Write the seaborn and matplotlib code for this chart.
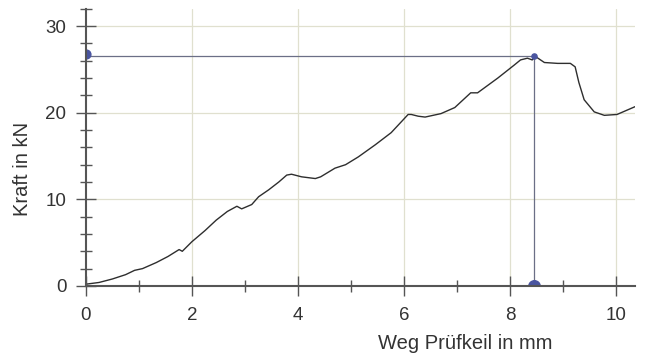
import numpy as np
import pandas as pd
import matplotlib
matplotlib.use("Agg")
import matplotlib.pyplot as plt
import seaborn as sns
from matplotlib.ticker import MultipleLocator

# Kraft-Weg-Kurve
weg_mm = [0.0, 0.25, 0.5, 0.75, 0.92, 1.07, 1.33, 1.55, 1.76, 1.82, 2.0, 2.25,
          2.46, 2.67, 2.85, 2.94, 3.13, 3.26, 3.45, 3.64, 3.79, 3.88, 4.07,
          4.33, 4.43, 4.7, 4.9, 5.14, 5.46, 5.76, 6.08, 6.14, 6.27, 6.4, 6.7,
          6.96, 7.26, 7.39, 7.77, 8.08, 8.2, 8.33, 8.42, 8.48, 8.65, 8.9, 9.14,
          9.23, 9.3, 9.4, 9.59, 9.78, 10.02, 10.36]
kraft_kn = [0.2, 0.4, 0.8, 1.3, 1.8, 2.0, 2.7, 3.4, 4.2, 4.0, 5.1, 6.4,
            7.6, 8.6, 9.2, 8.9, 9.4, 10.3, 11.1, 12.0, 12.8, 12.9, 12.6,
            12.4, 12.6, 13.6, 14.0, 14.9, 16.3, 17.7, 19.8, 19.8, 19.6, 19.5, 19.9,
            20.6, 22.3, 22.3, 24.0, 25.5, 26.1, 26.3, 26.1, 26.5, 25.8, 25.7, 25.7,
            25.3, 23.5, 21.5, 20.1, 19.7, 19.8, 20.7]

# Maximalkraft
f_max = 26.6
s_fmax = 8.45

df = pd.DataFrame({"Weg": weg_mm, "Kraft": kraft_kn})

sns.set_style("white")
plt.rcParams["font.family"] = ["Liberation Sans", "DejaVu Sans"]

fig = plt.figure(figsize=(6.5, 3.53), dpi=100)
ax = fig.add_axes([0.132, 0.19, 0.845, 0.785])

grid_col = "#e0e0cf"
for gx in [2, 4, 6, 8, 10]:
    ax.axvline(gx, color=grid_col, lw=0.9, zorder=0)
for gy in [10, 20, 30]:
    ax.axhline(gy, color=grid_col, lw=0.9, zorder=0)

sns.lineplot(data=df, x="Weg", y="Kraft", ax=ax, color="#2e2e2e", lw=1.0,
             estimator=None, sort=False, zorder=3)

# Hilfslinien zur Maximalkraft
ax.plot([0, s_fmax], [f_max, f_max], color="#6b6f86", lw=0.9, zorder=2)
ax.plot([s_fmax, s_fmax], [0, f_max], color="#6b6f86", lw=0.9, zorder=2)
ax.scatter([s_fmax], [f_max], s=14, color="#4a55a0", zorder=4, clip_on=True)
ax.scatter([0], [f_max + 0.2], s=40, color="#4a55a0", zorder=4, clip_on=True)
ax.scatter([s_fmax], [0], s=70, color="#4a55a0", zorder=4, clip_on=True)

ax.set_xlim(0, 10.36)
ax.set_ylim(0, 32)
ax.xaxis.set_major_locator(MultipleLocator(2))
ax.xaxis.set_minor_locator(MultipleLocator(1))
ax.yaxis.set_major_locator(MultipleLocator(10))
ax.yaxis.set_minor_locator(MultipleLocator(2))

for side in ["top", "right"]:
    ax.spines[side].set_visible(False)
for side in ["left", "bottom"]:
    ax.spines[side].set_color("#555555")
    ax.spines[side].set_linewidth(1.5)
    ax.spines[side].set_zorder(5)

ax.tick_params(which="both", bottom=True, left=True, top=False, right=False)
ax.tick_params(which="major", direction="inout", length=14, width=1.0,
               colors="#555555", labelcolor="#333333", labelsize=13.5)
ax.tick_params(which="minor", direction="inout", length=8, width=1.0,
               colors="#555555")
ax.tick_params(axis="x", which="major", pad=8)
ax.tick_params(axis="y", which="major", pad=7)

ax.set_xlabel("Weg Prüfkeil in mm", fontsize=14.5, color="#333333")
ax.set_ylabel("Kraft in kN", fontsize=14.5, color="#333333")
ax.xaxis.set_label_coords(0.69, -0.172)
ax.yaxis.set_label_coords(-0.098, 0.422)

fig.savefig("out.png", dpi=100, facecolor="white")
